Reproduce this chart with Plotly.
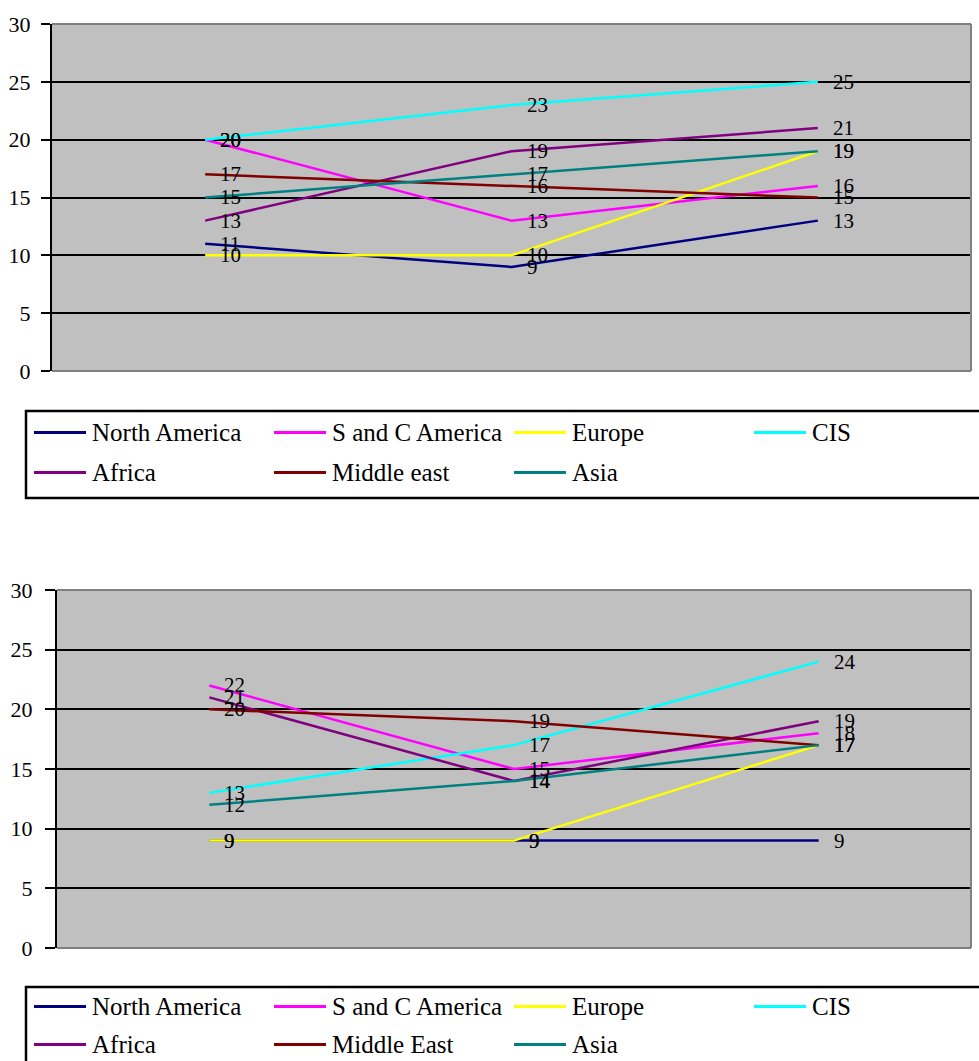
import plotly.graph_objects as go

# ---------------- data ----------------
categories = ["Period A", "Period B", "Period C"]
series_names_1 = ["North America", "S and C America", "Europe", "CIS", "Africa", "Middle east", "Asia"]
series_names_2 = ["North America", "S and C America", "Europe", "CIS", "Africa", "Middle East", "Asia"]
colors = ["#000080", "#FF00FF", "#FFFF00", "#00FFFF", "#800080", "#800000", "#008080"]

north_america_1 = [11, 9, 13]
s_c_america_1 = [20, 13, 16]
europe_1 = [10, 10, 19]
cis_1 = [20, 23, 25]
africa_1 = [13, 19, 21]
middle_east_1 = [17, 16, 15]
asia_1 = [15, 17, 19]

north_america_2 = [9, 9, 9]
s_c_america_2 = [22, 15, 18]
europe_2 = [9, 9, 17]
cis_2 = [13, 17, 24]
africa_2 = [21, 14, 19]
middle_east_2 = [20, 19, 17]
asia_2 = [12, 14, 17]

y_ticks = [0, 5, 10, 15, 20, 25, 30]

chart1 = [north_america_1, s_c_america_1, europe_1, cis_1, africa_1, middle_east_1, asia_1]
chart2 = [north_america_2, s_c_america_2, europe_2, cis_2, africa_2, middle_east_2, asia_2]

# ---------------- layout helpers ----------------
W, H = 979, 1061
FONT = "Liberation Serif"


def px_x(p):
    return p / W


def px_y(p):
    return 1 - p / H


fig = go.Figure()

panels = [
    dict(data=chart1, names=series_names_1, xa="x", ya="y",
         xdom=(52, 971), ydom=(24, 371), legend_top=411, legend_bottom=498,
         rows=(432.5, 472.5), ticklen=9, standoff=6),
    dict(data=chart2, names=series_names_2, xa="x2", ya="y2",
         xdom=(57, 971), ydom=(590, 948), legend_top=987, legend_bottom=1075,
         rows=(1006.5, 1044.5), ticklen=10, standoff=8),
]

shapes = []
annotations = []

for pi, p in enumerate(panels):
    for name, vals, col in zip(p["names"], p["data"], colors):
        fig.add_trace(go.Scatter(
            x=categories, y=vals, mode="lines", name=name,
            line=dict(color=col, width=2.5),
            xaxis=p["xa"], yaxis=p["ya"], showlegend=False,
        ))
        for ci, v in enumerate(vals):
            annotations.append(dict(
                x=ci, y=v, xref=p["xa"], yref=p["ya"], text=str(v),
                showarrow=False, xanchor="left", yanchor="middle", xshift=13,
                font=dict(family=FONT, size=21, color="black"),
            ))

    sfx = "" if pi == 0 else "2"
    axis_x = dict(
        domain=[px_x(p["xdom"][0]), px_x(p["xdom"][1])],
        type="category", categoryorder="array", categoryarray=categories,
        range=[-0.5, 2.5], showticklabels=False,
        showgrid=False, zeroline=False, ticks="", automargin=False,
        anchor="y" + sfx, fixedrange=True,
    )
    axis_y = dict(
        domain=[px_y(p["ydom"][1]), px_y(p["ydom"][0])],
        range=[0, 30], tickvals=y_ticks, ticks="outside", ticklen=p["ticklen"],
        tickwidth=2, tickcolor="black", showline=True, linecolor="black", linewidth=2,
        showgrid=True, gridcolor="black", gridwidth=2, zeroline=False,
        ticklabelstandoff=p["standoff"], automargin=False,
        tickfont=dict(family=FONT, size=22, color="black"),
        anchor="x" + sfx, fixedrange=True,
    )
    fig.update_layout(**{"xaxis" + sfx: axis_x, "yaxis" + sfx: axis_y})

    # gray frame on top, right, bottom of plot area
    xd = "x" + sfx + " domain"
    yd = "y" + sfx + " domain"
    for (x0, y0, x1, y1) in [(0, 1, 1, 1), (1, 0, 1, 1), (0, 0, 1, 0)]:
        shapes.append(dict(type="line", xref=xd, yref=yd, x0=x0, y0=y0, x1=x1, y1=y1,
                           line=dict(color="#808080", width=2), layer="above"))

    # legend box
    shapes.append(dict(type="rect", xref="paper", yref="paper",
                       x0=px_x(26), x1=px_x(1000),
                       y0=px_y(p["legend_bottom"]), y1=px_y(p["legend_top"]),
                       line=dict(color="black", width=2.5), layer="above"))
    for i, (name, col) in enumerate(zip(p["names"], colors)):
        row, column = divmod(i, 4)
        lx = 34 + 240 * column
        ly = p["rows"][row]
        shapes.append(dict(type="line", xref="paper", yref="paper",
                           x0=px_x(lx), x1=px_x(lx + 52), y0=px_y(ly), y1=px_y(ly),
                           line=dict(color=col, width=3), layer="above"))
        annotations.append(dict(
            x=px_x(lx + 56), y=px_y(ly), xref="paper", yref="paper", text=name,
            showarrow=False, xanchor="left", yanchor="middle",
            font=dict(family=FONT, size=25, color="black"),
        ))

fig.update_layout(
    width=W, height=H, margin=dict(l=0, r=0, t=0, b=0, autoexpand=False),
    paper_bgcolor="white", plot_bgcolor="#C0C0C0",
    shapes=shapes, annotations=annotations, showlegend=False,
)

fig.write_html("out.html", config={"displayModeBar": False})
